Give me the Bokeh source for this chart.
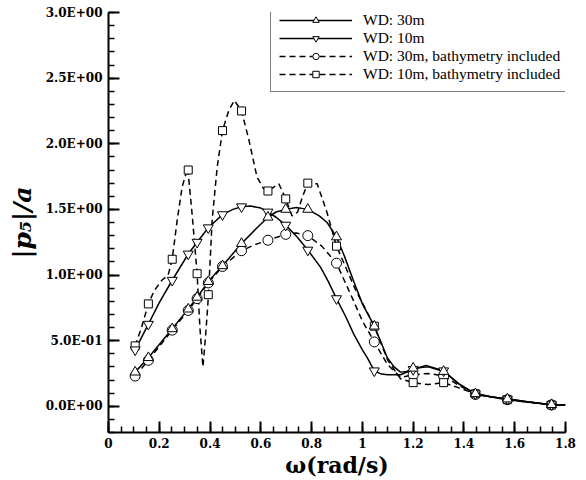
from bokeh.plotting import figure
from bokeh.models import Legend, LegendItem, FixedTicker, CustomJSTickFormatter
from bokeh.embed import file_html
from bokeh.resources import INLINE

# ---- data ----
omega_marks = [0.105, 0.157, 0.251, 0.314, 0.349, 0.393, 0.449, 0.524, 0.628, 0.698,
               0.785, 0.898, 1.047, 1.2, 1.32, 1.445, 1.571, 1.745]
wd30_marks = [0.26, 0.37, 0.59, 0.74, 0.83, 0.95, 1.07, 1.24, 1.44, 1.50, 1.50, 1.29,
              0.61, 0.29, 0.265, 0.095, 0.055, 0.012]
wd10_marks = [0.43, 0.625, 0.96, 1.16, 1.25, 1.36, 1.46, 1.52, 1.48, 1.38, 1.19, 0.82,
              0.27, 0.28, 0.27, 0.095, 0.055, 0.012]
wd30b_marks = [0.23, 0.35, 0.58, 0.73, 0.82, 0.94, 1.065, 1.185, 1.265, 1.31, 1.30, 1.09,
               0.49, 0.24, 0.23, 0.09, 0.05, 0.01]
wd10b_marks = [0.46, 0.78, 1.12, 1.80, 1.01, 0.85, 2.10, 2.25, 1.64, 1.58, 1.70, 1.22,
               0.61, 0.18, 0.18, 0.095, 0.05, 0.01]

wd30_cx = [0.105, 0.157, 0.251, 0.314, 0.349, 0.393, 0.449, 0.524, 0.58, 0.628, 0.66, 0.698,
           0.74, 0.785, 0.83, 0.861, 0.898, 0.93, 0.966, 1.0, 1.047, 1.075, 1.098, 1.125,
           1.15, 1.175, 1.2, 1.26, 1.32, 1.38, 1.445, 1.51, 1.571, 1.65, 1.745, 1.8]
wd30_cy = [0.26, 0.37, 0.59, 0.74, 0.83, 0.95, 1.07, 1.24, 1.35, 1.44, 1.48, 1.50,
           1.515, 1.50, 1.45, 1.40, 1.29, 1.14, 0.95, 0.78, 0.61, 0.48, 0.37, 0.30,
           0.26, 0.265, 0.29, 0.30, 0.265, 0.17, 0.095, 0.07, 0.055, 0.035, 0.012, 0.01]

wd10_cx = [0.105, 0.157, 0.2, 0.251, 0.314, 0.349, 0.393, 0.449, 0.49, 0.524, 0.56, 0.6,
           0.628, 0.66, 0.698, 0.743, 0.785, 0.835, 0.866, 0.898, 0.935, 0.966, 1.0, 1.019,
           1.047, 1.075, 1.1, 1.15, 1.2, 1.25, 1.32, 1.38, 1.445, 1.51, 1.571, 1.65, 1.745, 1.8]
wd10_cy = [0.43, 0.625, 0.79, 0.96, 1.16, 1.25, 1.36, 1.46, 1.50, 1.52, 1.525, 1.51,
           1.48, 1.44, 1.38, 1.29, 1.19, 1.06, 0.95, 0.82, 0.68, 0.55, 0.43, 0.37,
           0.27, 0.245, 0.24, 0.24, 0.28, 0.31, 0.27, 0.17, 0.095, 0.07, 0.055, 0.035, 0.012, 0.01]

wd30b_cx = [0.105, 0.157, 0.251, 0.314, 0.349, 0.393, 0.449, 0.524, 0.575, 0.628, 0.698, 0.74,
            0.785, 0.84, 0.898, 0.966, 1.0, 1.047, 1.098, 1.15, 1.2, 1.26, 1.32, 1.38,
            1.445, 1.571, 1.745, 1.8]
wd30b_cy = [0.23, 0.35, 0.58, 0.73, 0.82, 0.94, 1.065, 1.185, 1.23, 1.265, 1.31, 1.32,
            1.30, 1.22, 1.09, 0.80, 0.65, 0.49, 0.32, 0.22, 0.24, 0.25, 0.23, 0.16,
            0.09, 0.05, 0.01, 0.01]

wd10b_cx = [0.105, 0.13, 0.157, 0.18, 0.21, 0.235, 0.251, 0.27, 0.29, 0.312, 0.33, 0.349,
            0.36, 0.372, 0.383, 0.394, 0.408, 0.428, 0.449, 0.474, 0.496, 0.524, 0.553,
            0.585, 0.61, 0.628, 0.671, 0.698, 0.723, 0.745, 0.763, 0.785, 0.822, 0.86,
            0.898, 0.97, 1.047, 1.1, 1.15, 1.2, 1.26, 1.32, 1.38, 1.445, 1.571, 1.745, 1.8]
wd10b_cy = [0.46, 0.60, 0.78, 0.88, 0.96, 1.00, 1.12, 1.41, 1.67, 1.817, 1.45, 1.01,
            0.60, 0.30, 0.55, 0.854, 1.414, 1.82, 2.10, 2.255, 2.33, 2.25, 2.03,
            1.745, 1.66, 1.64, 1.695, 1.58, 1.45, 1.48, 1.59, 1.70, 1.695, 1.48,
            1.22, 0.90, 0.61, 0.35, 0.21, 0.18, 0.165, 0.18, 0.14, 0.095, 0.05, 0.01, 0.01]

x_ticks = [0, 0.2, 0.4, 0.6, 0.8, 1.0, 1.2, 1.4, 1.6, 1.8]
y_ticks = [0.0, 0.5, 1.0, 1.5, 2.0, 2.5, 3.0]
legend_labels = ["WD: 30m", "WD: 10m", "WD: 30m, bathymetry included",
                 "WD: 10m, bathymetry included"]

FONT = "Liberation Serif, Times New Roman, serif"
FONT_B = "DejaVu Serif"

p = figure(width=586, height=480, output_backend="svg", toolbar_location=None,
           x_range=(0, 1.8), y_range=(-0.2, 3.0),
           min_border_left=108, min_border_right=21, min_border_top=12, min_border_bottom=48)
p.outline_line_color = None
p.grid.visible = False
p.background_fill_color = "white"
p.border_fill_color = "white"

for ax in (p.xaxis[0], p.yaxis[0]):
    ax.axis_line_width = 2
    ax.axis_line_color = "black"
    ax.major_tick_in = 11
    ax.major_tick_out = 0
    ax.minor_tick_in = 6
    ax.minor_tick_out = 0
    ax.major_tick_line_width = 2
    ax.minor_tick_line_width = 1.5
    ax.major_label_text_font = FONT_B
    ax.major_label_text_font_style = "bold"
    ax.major_label_text_font_size = "12px"
    ax.major_label_text_color = "black"
    ax.axis_label_text_font = FONT_B
    ax.axis_label_text_color = "black"

p.xaxis.ticker = FixedTicker(ticks=x_ticks,
                             minor_ticks=[i * 0.05 for i in range(0, 37)])
p.yaxis.ticker = FixedTicker(ticks=y_ticks,
                             minor_ticks=[-0.2 + i * 0.1 for i in range(0, 33)])
p.yaxis.formatter = CustomJSTickFormatter(code="""
    const s = tick.toExponential(1);
    const parts = s.split("e");
    let e = parts[1];
    const sign = e[0];
    let d = e.slice(1);
    if (d.length < 2) d = "0" + d;
    return parts[0] + "E" + sign + d;
""")
p.xaxis.major_label_standoff = 5
p.yaxis.major_label_standoff = 6

p.xaxis.axis_label = "ω(rad/s)"
p.xaxis.axis_label_text_font_size = "22px"
p.xaxis.axis_label_text_font_style = "bold"
p.xaxis.axis_label_standoff = 1
p.yaxis.axis_label = "|p₅|/a"
p.yaxis.axis_label_text_font_size = "25px"
p.yaxis.axis_label_text_font_style = "bold italic"
p.yaxis.axis_label_standoff = 6

lw = 1.5
dash = "6 4"

l1 = p.line(wd30_cx, wd30_cy, line_color="black", line_width=lw)
l2 = p.line(wd10_cx, wd10_cy, line_color="black", line_width=lw)
l3 = p.line(wd30b_cx, wd30b_cy, line_color="black", line_width=lw, line_dash=dash)
l4 = p.line(wd10b_cx, wd10b_cy, line_color="black", line_width=lw, line_dash=dash)

s3 = p.scatter(omega_marks, wd30b_marks, marker="circle", size=10,
               fill_color="white", line_color="black", line_width=1)
s4 = p.scatter(omega_marks, wd10b_marks, marker="square", size=8,
               fill_color="white", line_color="black", line_width=1)
s2 = p.scatter(omega_marks, wd10_marks, marker="inverted_triangle", size=10,
               fill_color="white", line_color="black", line_width=1)
s1 = p.scatter(omega_marks, wd30_marks, marker="triangle", size=10,
               fill_color="white", line_color="black", line_width=1)

legend = Legend(items=[
    LegendItem(label=legend_labels[0], renderers=[l1, s1]),
    LegendItem(label=legend_labels[1], renderers=[l2, s2]),
    LegendItem(label=legend_labels[2], renderers=[l3, s3]),
    LegendItem(label=legend_labels[3], renderers=[l4, s4]),
])
legend.location = (162, 340)
legend.glyph_width = 73
legend.glyph_height = 16
legend.label_height = 16
legend.label_standoff = 11
legend.spacing = 0
legend.padding = 8
legend.margin = 0
legend.label_text_font = FONT
legend.label_text_font_size = "15.5px"
legend.label_text_color = "black"
legend.border_line_color = "black"
legend.border_line_width = 1.2
legend.background_fill_alpha = 1
p.add_layout(legend, "center")

open("out.html", "w").write(file_html(p, INLINE))
